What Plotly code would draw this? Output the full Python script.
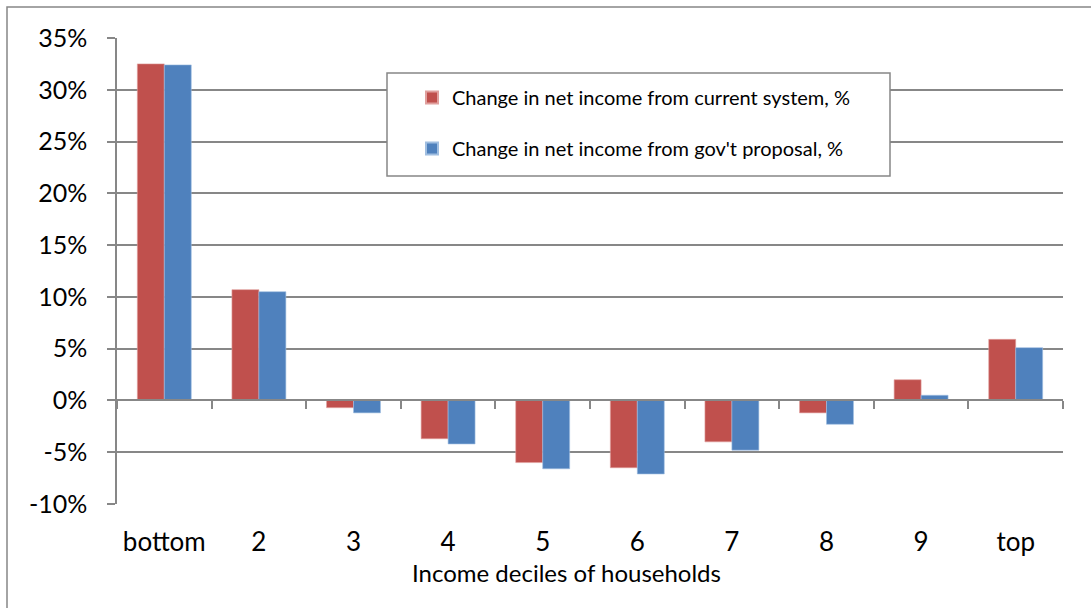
import plotly.graph_objects as go

deciles = ["bottom", "2", "3", "4", "5", "6", "7", "8", "9", "top"]
current_system = [32.5, 10.7, -0.7, -3.7, -6.0, -6.5, -4.0, -1.2, 2.0, 5.9]
gov_proposal = [32.4, 10.5, -1.2, -4.2, -6.6, -7.1, -4.8, -2.3, 0.5, 5.1]
series_names = ["Change in net income from current system, %",
                "Change in net income from gov't proposal, %"]
x_title = "Income deciles of households"
y_ticks = [-10, -5, 0, 5, 10, 15, 20, 25, 30, 35]
y_tick_text = [f"{v}%" for v in y_ticks]

W, H = 1091, 608
L, R, T, B = 117, 28, 38, 104
pw, ph = W - L - R, H - T - B

def px(x):
    return (x - L) / pw

def py(y):
    return (H - B - y) / ph

FONT = "Lato"
GRID = "#878787"

fig = go.Figure()
fig.add_trace(go.Bar(x=deciles, y=current_system, name=series_names[0],
                     marker=dict(color="#C0504D", line=dict(color="#E0A09E", width=0.6)),
                     legendgroup="a"))
fig.add_trace(go.Bar(x=deciles, y=gov_proposal, name=series_names[1],
                     marker=dict(color="#4F81BD", line=dict(color="#A0BEE0", width=0.6)),
                     legendgroup="b"))
# helper trace for the bottom label axis
fig.add_trace(go.Scatter(x=deciles, y=[0] * len(deciles), xaxis="x2", mode="markers",
                         marker=dict(opacity=0), showlegend=False, hoverinfo="skip"))

zero_pos = (0 - y_ticks[0]) / (y_ticks[-1] - y_ticks[0])

fig.update_layout(
    width=W, height=H,
    margin=dict(l=L, r=R, t=T, b=B, pad=0),
    paper_bgcolor="white", plot_bgcolor="white",
    font=dict(family=FONT, size=23, color="#000000"),
    barmode="group", bargap=0.43, bargroupgap=0,
    showlegend=True,
    legend=dict(x=px(412), y=py(78), xanchor="left", yanchor="top",
                bgcolor="rgba(0,0,0,0)", borderwidth=0,
                font=dict(family=FONT, size=20, color="#000000"), tracegroupgap=22,
                itemsizing="constant"),
    xaxis=dict(type="category", categoryarray=deciles, categoryorder="array",
               range=[-0.5, 9.5], anchor="free", position=zero_pos,
               showline=True, linecolor=GRID, linewidth=1.5,
               ticks="outside", ticklen=8, tickcolor=GRID, tickwidth=1.5,
               tickson="boundaries", showticklabels=False, showgrid=False,
               zeroline=False),
    xaxis2=dict(type="category", categoryarray=deciles, categoryorder="array",
                range=[-0.5, 9.5], overlaying="x", anchor="y", side="bottom",
                showline=False, ticks="", showgrid=False, zeroline=False,
                ticklabelstandoff=20,
                tickfont=dict(family=FONT, size=26, color="#000000")),
    yaxis=dict(range=[y_ticks[0], y_ticks[-1]], tickvals=y_ticks, ticktext=y_tick_text,
               showline=True, linecolor=GRID, linewidth=1.5,
               ticks="outside", ticklen=8, tickcolor=GRID, tickwidth=1.5,
               ticklabelstandoff=15,
               showgrid=True, gridcolor=GRID, gridwidth=1.5, zeroline=False,
               tickfont=dict(family=FONT, size=25, color="#000000")),
    annotations=[
        dict(text=x_title, xref="paper", yref="paper", x=px(566), y=py(572),
             xanchor="center", yanchor="middle", showarrow=False,
             font=dict(family=FONT, size=24, color="#000000")),
    ],
    shapes=[
        dict(type="rect", xref="paper", yref="paper",
             x0=px(387), x1=px(890), y0=py(176), y1=py(73),
             fillcolor="white", line=dict(color=GRID, width=1.5), layer="above"),
        dict(type="rect", xref="paper", yref="paper",
             x0=px(7), x1=px(1100), y0=py(620), y1=py(7),
             fillcolor="rgba(0,0,0,0)", line=dict(color=GRID, width=1.5), layer="above"),
    ],
)

fig.write_html("out.html", config={"displayModeBar": False},
               post_script="document.body.style.margin='0';document.body.style.overflow='hidden';")
